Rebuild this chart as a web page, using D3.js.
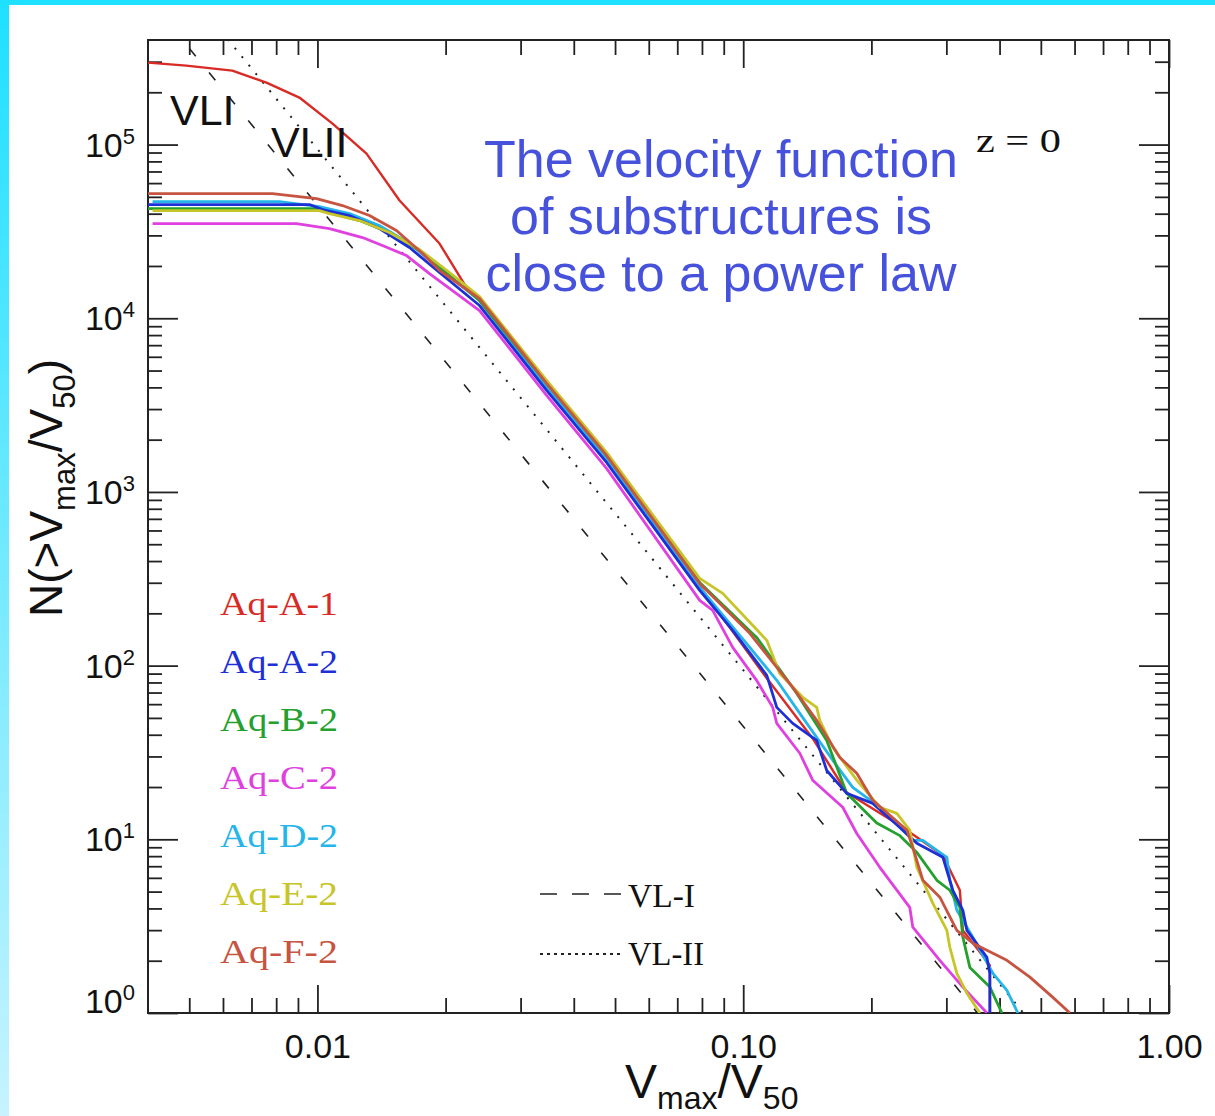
<!DOCTYPE html>
<html>
<head>
<meta charset="utf-8">
<script src="https://cdn.jsdelivr.net/npm/d3@7"></script>
<style>
  body { margin: 0; background: #fff; }
  svg { display: block; }
</style>
</head>
<body>
<div id="chart"></div>
<script>
// ---- data (Vmax/V50, N(>Vmax/V50)) ----
var seriesNames = ["Aq-A-1", "Aq-A-2", "Aq-B-2", "Aq-C-2", "Aq-D-2", "Aq-E-2", "Aq-F-2"];
var seriesColors = ["#d92b26", "#1d2fd6", "#23a02d", "#e040e0", "#25b5e8", "#c8c528", "#c65441"];

var aqA1 = [[0.004, 296500], [0.00492, 284900], [0.00631, 266600], [0.00759, 227500], [0.00907, 186500],
  [0.01085, 132100], [0.01304, 88750], [0.01559, 47610], [0.01935, 26930], [0.02239, 15030],
  [0.02403, 12650], [0.03453, 4102], [0.04776, 1559], [0.07903, 285.8], [0.1136, 84.5],
  [0.1456, 38.1], [0.175, 18.6], [0.2333, 12.0], [0.2944, 8.09], [0.3227, 5.09], [0.328, 2.99],
  [0.35, 2.45], [0.3796, 1.88], [0.3796, 1]];

var aqA2 = [[0.004, 45150], [0.00958, 45150], [0.01027, 42260], [0.01189, 39030], [0.01398, 32850],
  [0.01645, 25540], [0.01935, 18340], [0.02403, 11840], [0.03453, 3839], [0.04776, 1478],
  [0.07903, 271.1], [0.09447, 159.6], [0.1136, 87.9], [0.1199, 57.5], [0.1307, 46.5], [0.1488, 37.1],
  [0.1571, 24.9], [0.175, 18.4], [0.2015, 16.1], [0.2333, 11.7], [0.2557, 9.48], [0.2944, 7.88],
  [0.3107, 5.09], [0.328, 3.9], [0.3352, 2.99], [0.3735, 2.09], [0.3796, 1.69], [0.3796, 1]];

var aqB2 = [[0.004, 42830], [0.0101, 42830], [0.01067, 40610], [0.01256, 36520], [0.01476, 31150],
  [0.01737, 24540], [0.02043, 17620], [0.02403, 12650], [0.03453, 4212], [0.04776, 1622],
  [0.07903, 301.3], [0.1075, 145.4], [0.1336, 69.2], [0.1571, 37.1], [0.175, 18.4], [0.2059, 12.4],
  [0.2333, 10.5], [0.2557, 8.41], [0.285, 5.81], [0.3057, 5.09], [0.3227, 4.06], [0.328, 2.73],
  [0.3406, 1.83], [0.3796, 1.41], [0.4051, 1]];

var aqC2 = [[0.0041, 35100], [0.00893, 35100], [0.01067, 32850], [0.01276, 29150], [0.01421, 26230],
  [0.01619, 22970], [0.01833, 18090], [0.02403, 11080], [0.03453, 3593], [0.04776, 1366],
  [0.07903, 237.5], [0.08479, 208.0], [0.09447, 127.4], [0.1075, 82.3], [0.1173, 57.5], [0.1199, 46.5],
  [0.1358, 31.3], [0.1456, 21.9], [0.1713, 15.3], [0.1848, 10.8], [0.2093, 6.9], [0.2461, 4.06],
  [0.2502, 3.12], [0.2896, 2.01], [0.328, 1.41], [0.3735, 1]];

var aqD2 = [[0.0041, 46980], [0.00814, 46980], [0.0101, 43980], [0.01189, 40080], [0.01398, 34190],
  [0.01645, 26930], [0.01935, 19340], [0.02403, 12650], [0.03453, 3995], [0.04776, 1559],
  [0.07903, 282.0], [0.1036, 127.4], [0.1199, 82.3], [0.1358, 53.1], [0.1623, 28.5], [0.1808, 19.9],
  [0.2093, 15.3], [0.2502, 9.87], [0.2642, 9.87], [0.3008, 7.88], [0.3057, 5.81], [0.3175, 3.9],
  [0.3462, 2.73], [0.3859, 1.69], [0.4162, 1.35], [0.4416, 1]];

var aqE2 = [[0.0041, 41700], [0.0101, 41700], [0.01067, 40080], [0.01256, 36520], [0.01476, 31150],
  [0.01737, 24870], [0.02043, 18340], [0.02403, 13340], [0.03453, 4382], [0.04776, 1688],
  [0.07903, 317.8], [0.0895, 260.5], [0.1136, 139.8], [0.1218, 90.2], [0.138, 65.7], [0.1488, 57.5],
  [0.1513, 48.4], [0.1623, 33.8], [0.1848, 21.9], [0.2093, 15.3], [0.2295, 14.1], [0.2461, 11.3],
  [0.2557, 6.9], [0.2789, 4.28], [0.3008, 2.99], [0.3057, 2.39], [0.3175, 1.69], [0.3352, 1.3],
  [0.3596, 1]];

var aqF2 = [[0.004, 52240], [0.00784, 52240], [0.00995, 48890], [0.01145, 44560], [0.01325, 39030],
  [0.01533, 31990], [0.01766, 23590], [0.01935, 18830], [0.02403, 12990], [0.03453, 4212],
  [0.04776, 1622], [0.07903, 297.4], [0.1036, 153.4], [0.1307, 75.0], [0.1488, 48.4], [0.1686, 29.6],
  [0.1848, 24.0], [0.2015, 16.8], [0.2422, 11.3], [0.2502, 8.99], [0.2642, 5.81], [0.2896, 4.64],
  [0.3175, 2.99], [0.3462, 2.52], [0.4162, 2.01], [0.4713, 1.61], [0.5337, 1.23], [0.5852, 1]];

// Via Lactea fits (straight lines in log-log)
var vl1 = [[0.0045, 491000], [0.355, 1]];
var vl2 = [[0.0055, 566000], [0.455, 1]];

var xMajor = [0.01, 0.1, 1];
var xLabels = ["0.01", "0.10", "1.00"];
var xMinor = [0.005, 0.006, 0.007, 0.008, 0.009, 0.02, 0.03, 0.04, 0.05, 0.06, 0.07, 0.08, 0.09,
  0.2, 0.3, 0.4, 0.5, 0.6, 0.7, 0.8, 0.9];
var yMajor = [1, 10, 100, 1000, 10000, 100000];
var yExp = ["0", "1", "2", "3", "4", "5"];
var noteLines = ["The velocity function", "of substructures is", "close to a power law"];

var seriesData = [aqA1, aqA2, aqB2, aqC2, aqD2, aqE2, aqF2];

// ---- layout ----
var svgWidth = 1215, svgHeight = 1116;
var margin = { top: 40, left: 148, right: 46, bottom: 103 };
var width = svgWidth - margin.left - margin.right;
var height = svgHeight - margin.top - margin.bottom;

var yMinor = [];
yMajor.forEach(function(m) {
  if (m >= 100000) { [2, 3].forEach(function(k) { yMinor.push(m * k); }); return; }
  for (var k = 2; k <= 9; k++) yMinor.push(m * k);
});

var svg = d3.select("#chart").append("svg")
  .attr("width", svgWidth)
  .attr("height", svgHeight);

var defs = svg.append("defs");
var grad = defs.append("linearGradient")
  .attr("id", "sideband").attr("x1", 0).attr("y1", 0).attr("x2", 0).attr("y2", 1);
grad.append("stop").attr("offset", "0%").attr("stop-color", "#1ee0ff");
grad.append("stop").attr("offset", "100%").attr("stop-color", "#c6f3ff");

defs.append("clipPath").attr("id", "plotclip")
  .append("rect").attr("width", width).attr("height", height);

// background + cyan border
svg.append("rect").attr("width", svgWidth).attr("height", svgHeight).attr("fill", "#fff");
svg.append("rect").attr("x", 0).attr("y", 0).attr("width", 9).attr("height", svgHeight).attr("fill", "url(#sideband)");
svg.append("rect").attr("x", 0).attr("y", 0).attr("width", svgWidth).attr("height", 5).attr("fill", "#1ee0ff");

var chartGroup = svg.append("g")
  .attr("transform", `translate(${margin.left}, ${margin.top})`);

// scales
var xScale = d3.scaleLog().domain([0.004, 1]).range([0, width]);
var yScale = d3.scaleLog().domain([1, 4e5]).range([height, 0]);

// axes: ticks on all four sides pointing inward
function styleAxis(g) {
  g.select(".domain").remove();
  g.selectAll(".tick line").attr("stroke", "#222").attr("stroke-width", 1.8);
}

chartGroup.append("g").attr("transform", `translate(0, ${height})`)
  .call(d3.axisBottom(xScale).tickValues(xMinor).tickSize(-15).tickFormat(""))
  .call(styleAxis);
chartGroup.append("g").attr("transform", `translate(0, ${height})`)
  .call(d3.axisBottom(xScale).tickValues(xMajor).tickSize(-28).tickPadding(21)
    .tickFormat(function(d, i) { return xLabels[i]; }))
  .call(styleAxis)
  .selectAll("text")
  .attr("font-family", "'Liberation Sans', Arial, sans-serif")
  .attr("font-size", 34)
  .attr("fill", "#111");

chartGroup.append("g")
  .call(d3.axisTop(xScale).tickValues(xMinor).tickSize(-15).tickFormat(""))
  .call(styleAxis);
chartGroup.append("g")
  .call(d3.axisTop(xScale).tickValues(xMajor).tickSize(-28).tickFormat(""))
  .call(styleAxis);

chartGroup.append("g")
  .call(d3.axisLeft(yScale).tickValues(yMinor).tickSize(-14).tickFormat(""))
  .call(styleAxis);
chartGroup.append("g")
  .call(d3.axisLeft(yScale).tickValues(yMajor).tickSize(-30).tickFormat(""))
  .call(styleAxis);
chartGroup.append("g").attr("transform", `translate(${width}, 0)`)
  .call(d3.axisRight(yScale).tickValues(yMinor).tickSize(-14).tickFormat(""))
  .call(styleAxis);
chartGroup.append("g").attr("transform", `translate(${width}, 0)`)
  .call(d3.axisRight(yScale).tickValues(yMajor).tickSize(-30).tickFormat(""))
  .call(styleAxis);

// y tick labels 10^n
var yLab = chartGroup.append("g")
  .attr("font-family", "'Liberation Sans', Arial, sans-serif")
  .attr("fill", "#111");
yMajor.forEach(function(v, i) {
  var t = yLab.append("text")
    .attr("x", -13)
    .attr("y", yScale(v) + (v === 1 ? 0 : 12))
    .attr("text-anchor", "end")
    .attr("font-size", 34);
  t.append("tspan").text("10");
  t.append("tspan").attr("dy", -13).attr("font-size", 22).text(yExp[i]);
});

// frame
chartGroup.append("rect")
  .attr("width", width).attr("height", height)
  .attr("fill", "none").attr("stroke", "#222").attr("stroke-width", 2);

// lines
var line = d3.line()
  .x(d => xScale(d[0]))
  .y(d => yScale(d[1]));

var plot = chartGroup.append("g").attr("clip-path", "url(#plotclip)");

plot.append("path").datum(vl1)
  .attr("d", line).attr("fill", "none").attr("stroke", "#222")
  .attr("stroke-width", 1.6).attr("stroke-dasharray", "10,21");
plot.append("path").datum(vl2)
  .attr("d", line).attr("fill", "none").attr("stroke", "#222")
  .attr("stroke-width", 2).attr("stroke-dasharray", "2,9");

var drawOrder = [0, 3, 4, 2, 1, 5, 6];
drawOrder.forEach(function(i) {
  plot.append("path").datum(seriesData[i])
    .attr("d", line)
    .attr("fill", "none")
    .attr("stroke", seriesColors[i])
    .attr("stroke-width", i === 0 ? 2.4 : 2.8)
    .attr("stroke-linejoin", "round");
});

// legend of series (serif, coloured names)
var serif = "'Liberation Serif', 'Times New Roman', serif";
seriesNames.forEach(function(name, i) {
  svg.append("text")
    .attr("x", 220).attr("y", 615 + i * 58)
    .attr("font-family", serif).attr("font-size", 34)
    .attr("textLength", 118).attr("lengthAdjust", "spacingAndGlyphs")
    .attr("fill", seriesColors[i])
    .text(name);
});

// VL legend
svg.append("line").attr("x1", 540).attr("x2", 622).attr("y1", 894).attr("y2", 894)
  .attr("stroke", "#222").attr("stroke-width", 1.6).attr("stroke-dasharray", "17,15");
svg.append("line").attr("x1", 540).attr("x2", 622).attr("y1", 954).attr("y2", 954)
  .attr("stroke", "#222").attr("stroke-width", 1.8).attr("stroke-dasharray", "3,4");
svg.append("text").attr("x", 628).attr("y", 907)
  .attr("font-family", serif).attr("font-size", 33).attr("fill", "#111")
  .attr("textLength", 67).attr("lengthAdjust", "spacingAndGlyphs").text("VL-I");
svg.append("text").attr("x", 628).attr("y", 965)
  .attr("font-family", serif).attr("font-size", 33).attr("fill", "#111")
  .attr("textLength", 76).attr("lengthAdjust", "spacingAndGlyphs").text("VL-II");

// z = 0
svg.append("text").attr("x", 976).attr("y", 152)
  .attr("font-family", serif).attr("font-size", 33).attr("fill", "#111")
  .attr("textLength", 85).attr("lengthAdjust", "spacingAndGlyphs").text("z = 0");

// VLI / VLII labels
var sans = "'Liberation Sans', Arial, sans-serif";
svg.append("text").attr("x", 170).attr("y", 125)
  .attr("font-family", sans).attr("font-size", 43).attr("fill", "#111").text("VLI");
svg.append("text").attr("x", 271).attr("y", 157)
  .attr("font-family", sans).attr("font-size", 43).attr("fill", "#111").text("VLII");

// blue note
noteLines.forEach(function(s, i) {
  svg.append("text").attr("x", 721).attr("y", 177 + i * 57)
    .attr("text-anchor", "middle")
    .attr("font-family", sans).attr("font-size", 52).attr("fill", "#4752dc")
    .text(s);
});

// axis titles
var xt = svg.append("text").attr("x", 625).attr("y", 1098)
  .attr("font-family", sans).attr("font-size", 48).attr("fill", "#111");
xt.append("tspan").text("V");
xt.append("tspan").attr("dy", 11).attr("font-size", 32).text("max");
xt.append("tspan").attr("dy", -11).text("/V");
xt.append("tspan").attr("dy", 11).attr("font-size", 32).text("50");

var yt = svg.append("text")
  .attr("transform", "translate(62, 488) rotate(-90)")
  .attr("text-anchor", "middle")
  .attr("font-family", sans).attr("font-size", 46).attr("fill", "#111");
yt.append("tspan").text("N(>V");
yt.append("tspan").attr("dy", 13).attr("font-size", 31).text("max");
yt.append("tspan").attr("dy", -13).text("/V");
yt.append("tspan").attr("dy", 13).attr("font-size", 31).text("50");
yt.append("tspan").attr("dy", -13).text(")");
</script>
</body>
</html>
